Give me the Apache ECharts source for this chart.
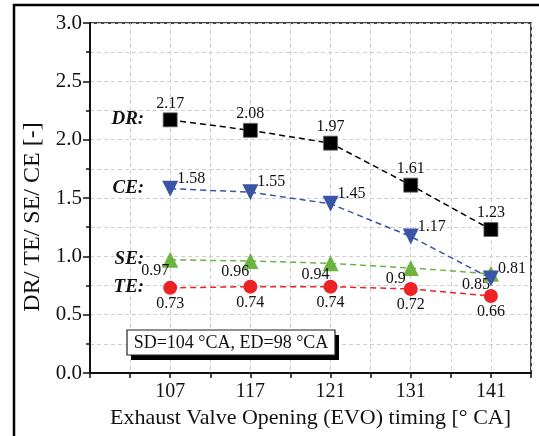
<!DOCTYPE html>
<html>
<head>
<meta charset="utf-8">
<script src="https://cdn.jsdelivr.net/npm/echarts@6/dist/echarts.min.js"></script>
<style>html,body{margin:0;padding:0;background:#fff}#c{width:539px;height:436px}</style>
</head>
<body>
<div id="c"></div>
<script>
var categories = ['107', '117', '121', '131', '141'];
var seriesNames = ['DR', 'CE', 'SE', 'TE'];
var drValues = [2.17, 2.08, 1.97, 1.61, 1.23];
var ceValues = [1.58, 1.55, 1.45, 1.17, 0.81];
var seValues = [0.97, 0.96, 0.94, 0.9, 0.85];
var teValues = [0.73, 0.74, 0.74, 0.72, 0.66];
var yTicks = [0, 0.5, 1.0, 1.5, 2.0, 2.5, 3.0];
var noteText = 'SD=104 \u00B0CA, ED=98 \u00B0CA';

var FONT = 'Liberation Serif';
function pts(vals){ return vals.map(function(v,i){ return [i+1, v]; }); }

var chart = echarts.init(document.getElementById('c'), null, {renderer:'canvas'});
var lineBase = function(name, vals, color, symbol, size, label, rot, z){
  return {
    name: name, type: 'line', data: pts(vals),
    symbol: symbol, symbolSize: size, symbolRotate: rot || 0,
    itemStyle: {color: color, borderColor: name==='DR' ? '#666' : color, borderWidth: name==='DR' ? 0.8 : 0},
    lineStyle: {color: color, width: 1.5, type: [6, 4]},
    label: Object.assign({show: true, fontFamily: FONT, fontSize: 16, color: '#111'}, label),
    z: z || 3
  };
};

var option = {
  animation: false,
  backgroundColor: '#fff',
  grid: {left: 90, top: 23, right: 8, bottom: 63, show: true, borderColor: '#444', borderWidth: 2},
  xAxis: {
    type: 'value', min: 0, max: 5.5, interval: 0.5,
    name: 'Exhaust Valve Opening (EVO) timing [\u00B0 CA]',
    nameLocation: 'middle', nameGap: 32,
    nameTextStyle: {fontFamily: FONT, fontSize: 22, color: '#111'},
    axisLine: {lineStyle: {color: '#111', width: 2}},
    axisTick: {show: true, length: 5, lineStyle: {color: '#111', width: 1.5}},
    axisLabel: {fontFamily: FONT, fontSize: 20, color: '#111', margin: 9, showMinLabel: true, showMaxLabel: true,
      formatter: function(v){ var i = Math.round(v*2); return (i % 2 === 0 && i/2 >= 1 && i/2 <= categories.length) ? categories[i/2 - 1] : ''; }},
    splitLine: {show: true, lineStyle: {color: '#cfcfcf', type: [4, 3], width: 1}}
  },
  yAxis: {
    type: 'value', min: 0, max: 3, interval: 0.5,
    name: 'DR/ TE/ SE/ CE [-]',
    nameLocation: 'middle', nameGap: 43, nameRotate: 90,
    nameTextStyle: {fontFamily: FONT, fontSize: 24, color: '#111', padding: [0, 38, 0, 0]},
    axisLine: {show: true, lineStyle: {color: '#111', width: 2}},
    axisTick: {show: true, length: 7, lineStyle: {color: '#111', width: 1.5}},
    minorTick: {show: true, splitNumber: 2, length: 4, lineStyle: {color: '#111', width: 1.5}},
    axisLabel: {fontFamily: FONT, fontSize: 21, color: '#111', margin: 8,
      formatter: function(v){ return yTicks.indexOf(v) >= 0 ? v.toFixed(1) : ''; }},
    splitLine: {show: true, lineStyle: {color: '#cfcfcf', type: [4, 3], width: 1}},
    minorSplitLine: {show: true, lineStyle: {color: '#cfcfcf', type: [4, 3], width: 1}}
  },
  series: [
    lineBase('DR', drValues, '#000000', 'rect', 14, {position: 'top', distance: 1}, 0, 3),
    lineBase('CE', ceValues, '#3a55a6', 'triangle', 16, {position: 'right', distance: 0, offset: [-1, -10]}, 180, 5),
    lineBase('SE', seValues, '#6db33f', 'triangle', 16, {position: 'inside', offset: [-15, 11]}, 0, 4),
    lineBase('TE', teValues, '#ec2227', 'circle', 14, {position: 'bottom', distance: 1}, 0, 3)
  ]
};
chart.setOption(option);

var firstVals = [drValues[0], ceValues[0], seValues[0], teValues[0]];
var graphics = [
  {type: 'rect', shape: {x: 14, y: 5, width: 700, height: 600}, style: {fill: 'none', stroke: '#000', lineWidth: 2.5}, z: 10, silent: true},
  {type: 'rect', shape: {x: 131, y: 335, width: 208, height: 25}, style: {fill: '#000'}, z: 10},
  {type: 'rect', shape: {x: 127, y: 330, width: 208, height: 25}, style: {fill: '#fff', stroke: '#222', lineWidth: 1.2}, z: 11},
  {type: 'text', x: 231, y: 343, style: {text: noteText, font: '18px "Liberation Serif"', fill: '#111', textAlign: 'center', textVerticalAlign: 'middle'}, z: 12}
];
seriesNames.forEach(function(n, i){
  var p = chart.convertToPixel({gridIndex: 0}, [1, firstVals[i]]);
  graphics.push({type: 'text', x: p[0] - 26, y: p[1] - 1,
    style: {text: n + ':', font: 'italic bold 19px "Liberation Serif"', fill: '#111', textAlign: 'right', textVerticalAlign: 'middle'}, z: 12});
});
chart.setOption({graphic: graphics});
</script>
</body>
</html>
